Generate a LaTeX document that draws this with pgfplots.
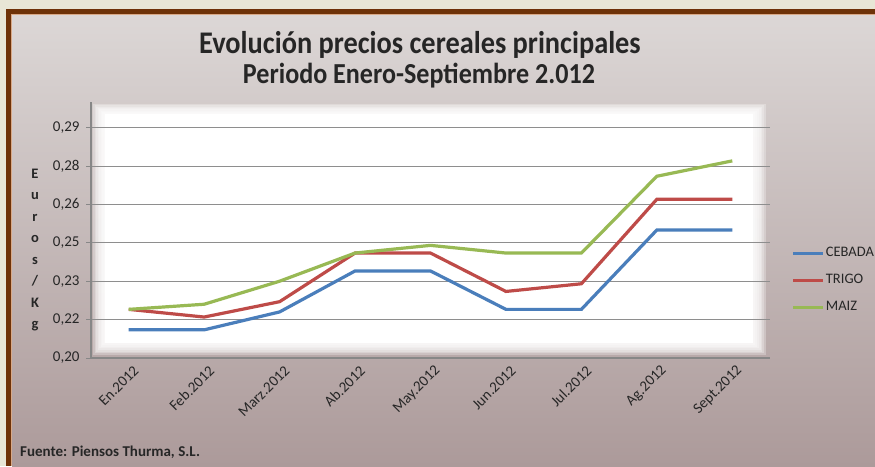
\documentclass[border=0pt]{standalone}
\usepackage{pgfplots}
\pgfplotsset{compat=1.18}
\usepackage{fontspec}
\setmainfont{Carlito}
\newfontfamily\titlefont[FakeStretch=0.9]{Carlito}
\definecolor{cebada}{HTML}{4A7EBB}
\definecolor{trigo}{HTML}{BE4B48}
\definecolor{maiz}{HTML}{98B954}
\definecolor{outercol}{HTML}{E8E6D6}
\definecolor{framecol}{HTML}{6E3208}
\definecolor{framelight}{HTML}{D9A987}
\definecolor{bgtop}{HTML}{DCD7D6}
\definecolor{bgbot}{HTML}{AC9A9A}
\definecolor{txt}{HTML}{262626}
\definecolor{axgray}{HTML}{878787}
\definecolor{gridgray}{HTML}{8E8E8E}

\pgfplotstableread{
x cebada trigo maiz
1 0.211 0.219 0.219
2 0.211 0.216 0.221
3 0.218 0.222 0.230
4 0.234 0.241 0.241
5 0.234 0.241 0.244
6 0.219 0.226 0.241
7 0.219 0.229 0.241
8 0.250 0.262 0.271
9 0.250 0.262 0.277
}\datatable

\begin{document}
\begin{tikzpicture}
\useasboundingbox (0pt,0pt) rectangle (875pt,-466pt);
% background
\fill[outercol] (0pt,0pt) rectangle (875pt,-466pt);
\fill[framecol] (6pt,-9pt) rectangle (875pt,-466pt);
\fill[framelight] (11pt,-14pt) rectangle (875pt,-466pt);
\shade[top color=bgtop, bottom color=bgbot] (12pt,-15pt) rectangle (875pt,-466pt);
% soft white plot area
\foreach \i in {0,...,7}{
  \fill[white, opacity=0.28] ({93pt+1.5pt*\i},{-104pt-1.3pt*\i}) rectangle ({766pt-1.8pt*\i},{-355pt+1.7pt*\i});
}
\fill[white] (105pt,-114.4pt) rectangle (753.4pt,-343.1pt);
% titles
\node[font=\titlefont\fontsize{31.5}{31.5}\selectfont\bfseries, text=txt] at (420pt,-45pt) {Evolución precios cereales principales};
\node[font=\titlefont\fontsize{29}{29}\selectfont\bfseries, text=txt] at (419pt,-76pt) {Periodo Enero-Septiembre 2.012};
% y label
\node[font=\fontsize{14.5}{21.5}\selectfont\bfseries, text=txt, align=center, inner sep=0pt] at (35pt,-250pt) {E\\u\\r\\o\\s\\/\\K\\g};
% source
\node[font=\fontsize{15}{17}\selectfont\bfseries, text=txt, anchor=west, inner sep=0pt] at (20pt,-452pt) {Fuente: Piensos Thurma, S.L.};

\begin{axis}[
  at={(91pt,-358pt)}, anchor=south west,
  scale only axis, width=679pt, height=256pt,
  xmin=0.5, xmax=9.5, ymin=0.2, ymax=0.30,
  axis x line*=bottom, axis y line*=left,
  axis line style={draw=axgray, line width=1.4pt},
  xtick={1,...,9},
  xticklabels={En.2012,Feb.2012,Marz.2012,Ab.2012,May.2012,Jun.2012,Jul.2012,Ag.2012,Sept.2012},
  major x tick style={draw=none},
  extra x ticks={0.5,1.5,...,9.5},
  extra x tick labels={},
  extra x tick style={grid=none, tick style={draw=axgray, line width=1pt}},
  ytick={0.2,0.215,0.23,0.245,0.26,0.275,0.29},
  yticklabels={{0,20},{0,22},{0,23},{0,25},{0,26},{0,28},{0,29}},
  ytick style={draw=axgray, line width=1pt},
  tick align=outside, major tick length=5pt,
  ymajorgrids, grid style={draw=gridgray, line width=0.9pt},
  ticklabel style={font=\fontsize{15}{17}\selectfont, text=txt},
  yticklabel style={xshift=-3pt},
  xticklabel style={rotate=45, anchor=east, xshift=5pt, yshift=-9pt},
  legend style={at={(1.032,0.440)}, anchor=north west, draw=none, fill=none,
    font=\fontsize{14.5}{16}\selectfont, text=txt, inner sep=0pt, row sep=12pt,
    nodes={text height=10pt, text depth=3pt, inner sep=1pt}},
  legend cell align=left,
  legend image code/.code={\draw[#1, line width=3pt] (0pt,0pt) -- (30pt,0pt);},
]
\addplot[cebada, line width=3.2pt] table[x=x, y=cebada] {\datatable};
\addlegendentry{CEBADA}
\addplot[trigo, line width=3.2pt] table[x=x, y=trigo] {\datatable};
\addlegendentry{TRIGO}
\addplot[maiz, line width=3.2pt] table[x=x, y=maiz] {\datatable};
\addlegendentry{MAIZ}
\end{axis}
\end{tikzpicture}
\end{document}
